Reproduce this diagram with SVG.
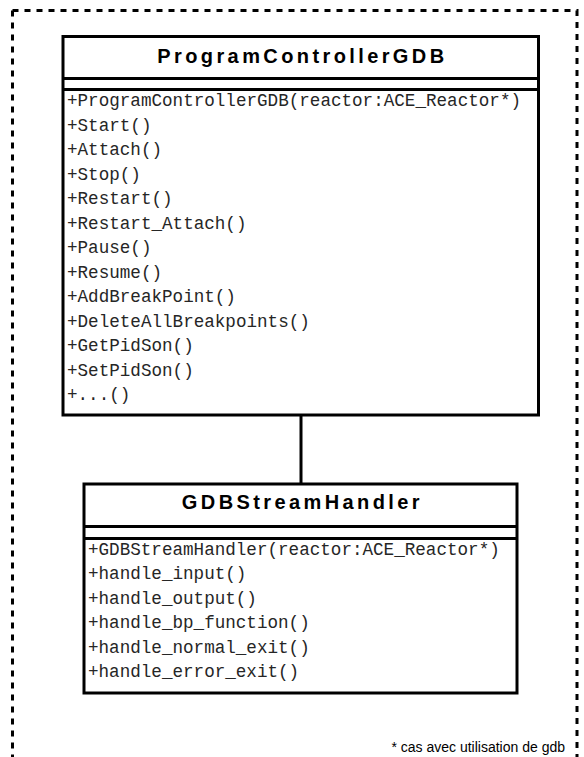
<svg xmlns="http://www.w3.org/2000/svg" width="584" height="757" viewBox="0 0 584 757">
  <style>
    .frame { fill: none; stroke: #000; stroke-width: 3; stroke-dasharray: 6 6; }
    .box { fill: #fff; stroke: #000; stroke-width: 3; }
    .sep { stroke: #000; stroke-width: 3; }
    .link { stroke: #000; stroke-width: 3; fill: none; }
    .title { font-family: "Liberation Sans", Arial, sans-serif; font-weight: bold; font-size: 20px; letter-spacing: 3.4px; text-anchor: middle; fill: #000; }
    .op { font-family: "Liberation Mono", "Courier New", monospace; font-size: 17.6px; fill: #262626; }
    .note { font-family: "Liberation Sans", Arial, sans-serif; font-size: 14px; text-anchor: end; fill: #000; }
  </style>

  <rect width="584" height="757" fill="#fff"/>

  <!-- package frame (open at the bottom of the sheet) -->
  <path class="frame" d="M12.5,10.5 V760"/>
  <path class="frame" d="M12.5,10.5 H577 V760"/>

  <!-- association between the two classes -->
  <g id="connectors">
    <line class="link" x1="301" y1="415" x2="301" y2="484"/>
  </g>

  <g id="ProgramControllerGDB">
    <rect class="box" x="63" y="36.5" width="475.5" height="378.5"/>
    <line class="sep" x1="63" y1="78.5" x2="538.5" y2="78.5"/>
    <line class="sep" x1="63" y1="89.5" x2="538.5" y2="89.5"/>
    <text class="title" x="302.4" y="62.5">ProgramControllerGDB</text>
    <text class="op" x="67" y="106">+ProgramControllerGDB(reactor:ACE_Reactor*)</text>
    <text class="op" x="67" y="130.5">+Start()</text>
    <text class="op" x="67" y="155">+Attach()</text>
    <text class="op" x="67" y="179.5">+Stop()</text>
    <text class="op" x="67" y="204">+Restart()</text>
    <text class="op" x="67" y="228.5">+Restart_Attach()</text>
    <text class="op" x="67" y="253">+Pause()</text>
    <text class="op" x="67" y="277.5">+Resume()</text>
    <text class="op" x="67" y="302">+AddBreakPoint()</text>
    <text class="op" x="67" y="326.5">+DeleteAllBreakpoints()</text>
    <text class="op" x="67" y="351">+GetPidSon()</text>
    <text class="op" x="67" y="375.5">+SetPidSon()</text>
    <text class="op" x="67" y="400">+...()</text>
  </g>

  <g id="GDBStreamHandler">
    <rect class="box" x="84" y="484" width="433" height="209"/>
    <line class="sep" x1="84" y1="526.5" x2="517" y2="526.5"/>
    <line class="sep" x1="84" y1="538.5" x2="517" y2="538.5"/>
    <text class="title" x="302.4" y="508.5">GDBStreamHandler</text>
    <text class="op" x="88" y="555">+GDBStreamHandler(reactor:ACE_Reactor*)</text>
    <text class="op" x="88" y="579.4">+handle_input()</text>
    <text class="op" x="88" y="603.8">+handle_output()</text>
    <text class="op" x="88" y="628.2">+handle_bp_function()</text>
    <text class="op" x="88" y="652.6">+handle_normal_exit()</text>
    <text class="op" x="88" y="677">+handle_error_exit()</text>
  </g>

  <text class="note" x="565" y="752">* cas avec utilisation de gdb</text>
</svg>
